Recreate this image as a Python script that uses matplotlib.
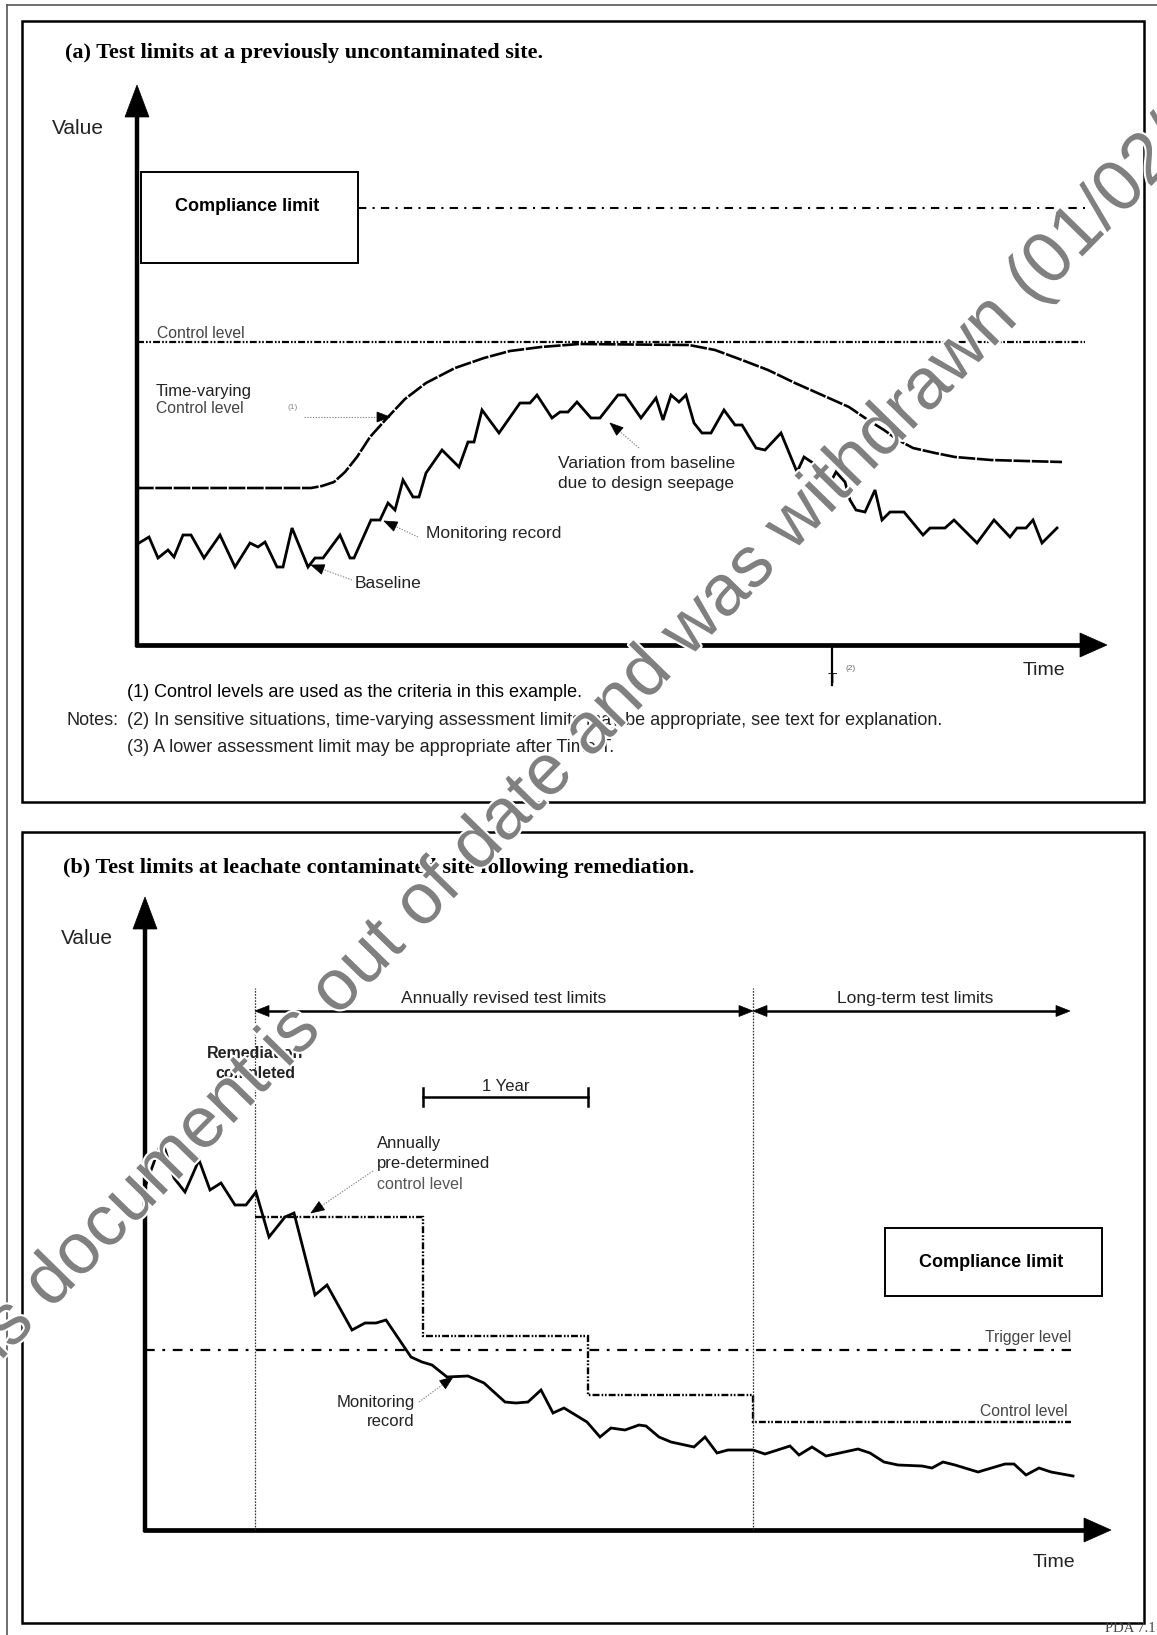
import numpy as np
import matplotlib
matplotlib.use("Agg")
import matplotlib.pyplot as plt
from matplotlib.patches import Rectangle, Polygon
import matplotlib.patheffects as pe

plt.rcParams['font.family'] = ['Liberation Sans', 'DejaVu Sans']
plt.rcParams['lines.scale_dashes'] = False

# ---------------- panel (a): previously uncontaminated site ----------------
# time and value in arbitrary units (10 px per unit)
a_time = [0.2, 1.2, 2.1, 3.1, 3.7, 4.6, 5.4, 6.7, 8.3, 9.8, 11.3, 12.1, 12.8, 14.0, 14.6,
          15.5, 17.1, 17.8, 18.6, 20.3, 21.3, 21.7, 23.4, 24.3, 25.1, 25.8, 26.6, 27.6,
          28.2, 28.9, 30.5, 32.2, 33.1, 33.7, 34.5, 36.2, 38.3, 39.3, 40.0, 41.5, 42.3,
          43.1, 44.0, 45.4, 46.3, 48.1, 48.8, 50.4, 51.9, 52.6, 53.4, 54.2, 54.9, 55.7,
          56.5, 57.4, 58.7, 59.8, 60.5, 61.9, 62.8, 64.4, 66.0, 66.7, 67.6, 68.7, 69.2,
          69.9, 70.8, 71.3, 71.9, 72.8, 73.8, 74.5, 75.3, 76.7, 78.6, 79.3, 80.8, 81.7,
          84.0, 85.7, 87.3, 88.0, 88.9, 89.6, 90.5, 92.0]
a_record = [10.2, 10.8, 8.7, 9.5, 8.8, 11.0, 11.0, 8.7, 11.0, 7.8, 10.2, 9.8, 10.3, 7.8, 7.8,
            11.7, 7.8, 8.7, 8.7, 11.0, 8.7, 8.7, 12.5, 12.5, 14.2, 13.5, 16.5, 14.8,
            14.8, 17.2, 19.5, 17.8, 20.3, 20.3, 23.5, 21.2, 24.2, 24.2, 25.0, 22.7, 23.3,
            23.3, 24.3, 22.7, 22.7, 25.0, 25.0, 22.7, 24.7, 22.5, 25.0, 24.3, 25.0, 22.2,
            21.2, 21.2, 23.5, 22.0, 22.0, 19.7, 19.5, 21.2, 17.3, 18.8, 18.2, 16.8, 16.0,
            17.3, 16.3, 14.5, 13.5, 13.3, 15.5, 12.5, 13.3, 13.3, 11.0, 11.7, 11.7, 12.5,
            10.2, 12.5, 10.8, 11.7, 11.7, 12.5, 10.2, 11.7]
a_tv_time = [0, 17.4, 18.5, 19.7, 20.8, 22.0, 23.3, 25.1, 26.8, 28.9, 31.8, 34.7, 37.3, 40.4,
             44.2, 55.2, 57.8, 60.5, 63.1, 65.8, 68.5, 71.2, 73.1, 74.7, 76.1, 77.6, 79.8,
             81.8, 85.4, 88.8, 92.5]
a_tv_level = [15.7, 15.7, 15.9, 16.3, 17.3, 18.8, 20.8, 22.8, 24.6, 26.2, 27.7, 28.7, 29.4,
              29.8, 30.1, 30.0, 29.5, 28.5, 27.5, 26.2, 25.0, 23.8, 22.5, 21.5, 20.5, 19.7,
              19.2, 18.8, 18.5, 18.4, 18.3]
a_control = 30.3
a_compliance = 43.7
a_limit_span = [0, 94.8]
a_compliance_start = 22.1
a_T = 69.5

# ---------------- panel (b): leachate contaminated site ----------------
b_time = [0.0, 1.7, 2.9, 4.0, 5.4, 6.5, 7.6, 9.0, 10.1, 11.1, 12.4, 14.0, 14.9, 17.0, 18.2,
          20.7, 22.0, 23.1, 24.1, 26.6, 27.7, 28.7, 30.2, 32.3, 33.9, 36.0, 37.1, 38.3,
          39.6, 40.8, 41.9, 44.2, 45.5, 46.6, 48.0, 49.4, 50.1, 51.4, 52.6, 54.9, 56.0,
          57.2, 58.3, 60.8, 62.0, 64.5, 65.4, 66.7, 68.1, 71.3, 72.5, 73.9, 75.3, 77.7,
          78.7, 79.8, 81.0, 83.3, 86.0, 86.9, 88.1, 89.4, 90.6, 92.8]
b_record = [34.3, 39.0, 35.2, 33.8, 37.0, 34.0, 34.7, 32.5, 32.5, 33.8, 29.3, 31.3, 31.7, 23.5,
            24.5, 20.0, 20.7, 20.7, 21.0, 17.3, 16.8, 16.5, 15.3, 15.4, 14.7, 12.8, 12.7,
            12.8, 14.0, 11.7, 12.2, 10.8, 9.3, 10.2, 10.0, 10.5, 10.4, 9.3, 8.8, 8.3, 9.3,
            7.7, 8.0, 8.0, 7.6, 8.4, 7.5, 8.3, 7.4, 8.1, 7.7, 6.8, 6.5, 6.4, 6.2, 6.8, 6.5,
            5.8, 6.6, 6.6, 5.5, 6.2, 5.8, 5.4]
b_step_edges = [11.0, 27.8, 44.3, 60.8, 92.6]
b_step_levels = [31.3, 19.4, 13.5, 10.8]
b_trigger = 18.0
b_phase_top = 54.2
b_phase_arrow = 51.9
b_phase_end = 92.5
b_year_level = 43.3

W, H = 1157, 1635
fig = plt.figure(figsize=(W / 100, H / 100), dpi=100)
fig.patch.set_facecolor('white')

bg = fig.add_axes([0, 0, 1, 1])
bg.set_xlim(0, W)
bg.set_ylim(H, 0)
bg.axis('off')

dash_dot_dot = (0, (5, 1.5, 1.2, 1.2, 1.2, 1.5))


def head(ax, tip, tail, length, width, color='k'):
    tx, ty = tip
    sx, sy = tail
    d = np.hypot(tx - sx, ty - sy)
    ux, uy = (tx - sx) / d, (ty - sy) / d
    bx, by = tx - ux * length, ty - uy * length
    px, py = -uy * width / 2, ux * width / 2
    ax.add_patch(Polygon([(tx, ty), (bx + px, by + py), (bx - px, by - py)],
                         closed=True, facecolor=color, edgecolor=color, lw=0.5, zorder=5,
                         clip_on=False))


def leader(ax, tail, tip):
    ax.plot([tail[0], tip[0]], [tail[1], tip[1]], color='#888888', lw=0.8, ls=(0, (1, 1)))
    head(ax, tip, tail, 13, 10)


def axis_arrows(ox, oy, ytip, xtip):
    bg.plot([ox, ox], [oy + 2, ytip + 25], color='k', lw=3.2, solid_capstyle='butt')
    head(bg, (ox, ytip), (ox, oy), 32, 24)
    bg.plot([ox - 2, xtip - 22], [oy, oy], color='k', lw=3.4, solid_capstyle='butt')
    head(bg, (xtip, oy), (ox, oy), 27, 24)


# page and panel frames
bg.plot([7, W], [5, 5], color='#555555', lw=1.2)
bg.plot([7, 7], [5, H], color='#555555', lw=1.2)
for top, bot in [(21, 802), (832, 1623)]:
    bg.add_patch(Rectangle((22, top), 1144 - 22, bot - top, fill=False, ec='k', lw=1.8))

serif = ['Liberation Serif', 'DejaVu Serif']
bg.text(65, 53, '(a) Test limits at a previously uncontaminated site.', family=serif,
        fontweight='bold', fontsize=16, va='center')
bg.text(63, 868, '(b) Test limits at leachate contaminated site following remediation.',
        family=serif, fontweight='bold', fontsize=16, va='center')
bg.text(1156, 1635, 'PDA 7.1', family=serif, fontsize=10.5, color='#444444', ha='right',
        va='bottom')

# ---------------- panel (a) ----------------
ax_a = fig.add_axes([137 / W, 1 - 645 / H, 970 / W, 560 / H])
ax_a.set_xlim(0, 97)
ax_a.set_ylim(0, 56)
ax_a.axis('off')

ax_a.plot(a_limit_span, [a_control, a_control], color='k', lw=1.6, ls=dash_dot_dot)
ax_a.plot([a_compliance_start, a_limit_span[1]], [a_compliance, a_compliance], color='k',
          lw=1.5, ls=(0, (6, 4.5, 1.5, 4.5)))
ax_a.plot(a_tv_time, a_tv_level, color='k', lw=1.9, ls=(0, (12, 1.2)))
ax_a.plot(a_time, a_record, color='k', lw=2.0, solid_joinstyle='miter')
ax_a.plot([a_T, a_T], [0, -4.0], color='k', lw=1.6, clip_on=False)

axis_arrows(137, 645, 85, 1107)

bg.add_patch(Rectangle((141, 172), 217, 91, fill=True, fc='white', ec='k', lw=1.4, zorder=4))
bg.text(247, 206, 'Compliance limit', fontsize=13, fontweight='bold', ha='center',
        va='center', zorder=6)
bg.text(78, 128, 'Value', fontsize=15, ha='center', va='center', color='#222222')
bg.text(1044, 670, 'Time', fontsize=14, ha='center', va='center', color='#222222')
bg.text(832, 679, 'T', fontsize=11, ha='center', va='center', color='#222222')
bg.text(845, 668, '(2)', fontsize=6, ha='left', va='center', color='#666666')

bg.text(157, 333, 'Control level', fontsize=11.3, va='center', color='#444444')
bg.text(156, 391, 'Time-varying', fontsize=12, va='center', color='#222222')
bg.text(156, 408, 'Control level', fontsize=11.3, va='center', color='#444444')
bg.text(287, 407, '(1)', fontsize=6, va='center', color='#888888')
leader(bg, (304, 417), (390, 417))

bg.text(426, 533, 'Monitoring record', fontsize=12.5, va='center', color='#222222')
leader(bg, (418, 537), (384, 521))
bg.text(355, 583, 'Baseline', fontsize=12.5, va='center', color='#222222')
leader(bg, (352, 580), (311, 565))
bg.text(558, 463, 'Variation from baseline', fontsize=12.5, va='center', color='#222222')
bg.text(558, 483, 'due to design seepage', fontsize=12.5, va='center', color='#222222')
leader(bg, (639, 448), (610, 423))

bg.text(127, 692, '(1) Control levels are used as the criteria in this example.',
        fontsize=13, va='center', color='black')
bg.text(67, 720, 'Notes:', fontsize=13, va='center', color='#222222')
bg.text(127, 720, '(2) In sensitive situations, time-varying assessment limits may be '
        'appropriate, see text for explanation.', fontsize=13, va='center', color='#222222')
bg.text(127, 747, '(3) A lower assessment limit may be appropriate after Time T.',
        fontsize=13, va='center', color='#222222')

# ---------------- panel (b) ----------------
ax_b = fig.add_axes([145 / W, 1 - 1530 / H, 966 / W, 633 / H])
ax_b.set_xlim(0, 96.6)
ax_b.set_ylim(0, 63.3)
ax_b.axis('off')

for t in (b_step_edges[0], b_step_edges[3]):
    ax_b.plot([t, t], [0, b_phase_top], color='#333333', lw=0.9, ls=(0, (1.2, 1)))
ax_b.plot([0, b_step_edges[-1]], [b_trigger, b_trigger], color='k', lw=1.6,
          ls=(0, (7, 5.5, 2, 5.5)))
ax_b.stairs(b_step_levels, b_step_edges, baseline=None, color='k', lw=1.7, ls=dash_dot_dot)
ax_b.plot(b_time, b_record, color='k', lw=2.0, solid_joinstyle='miter')

for lo, hi in [(b_step_edges[0], b_step_edges[3]), (b_step_edges[3], b_phase_end)]:
    ax_b.plot([lo + 0.8, hi - 0.8], [b_phase_arrow, b_phase_arrow], color='k', lw=1.8)
    head(ax_b, (lo, b_phase_arrow), (hi, b_phase_arrow), 1.4, 1.1)
    head(ax_b, (hi, b_phase_arrow), (lo, b_phase_arrow), 1.4, 1.1)
ax_b.plot([b_step_edges[1], b_step_edges[2]], [b_year_level, b_year_level], color='k', lw=1.8)
for t in (b_step_edges[1], b_step_edges[2]):
    ax_b.plot([t, t], [b_year_level - 0.9, b_year_level + 0.9], color='k', lw=1.8)

axis_arrows(145, 1530, 897, 1111)

bg.text(87, 938, 'Value', fontsize=15, ha='center', va='center', color='#222222')
bg.text(1054, 1562, 'Time', fontsize=14, ha='center', va='center', color='#222222')
bg.text(504, 998, 'Annually revised test limits', fontsize=12.5, ha='center', va='center',
        color='#222222')
bg.text(915, 998, 'Long-term test limits', fontsize=12.5, ha='center', va='center',
        color='#222222')
bg.text(255, 1053, 'Remediation', fontsize=11.5, fontweight='bold', ha='center',
        va='center', color='#222222')
bg.text(255, 1073, 'completed', fontsize=11.5, fontweight='bold', ha='center', va='center',
        color='#222222')
bg.text(506, 1086, '1 Year', fontsize=12, ha='center', va='center', color='#222222')

bg.text(377, 1143, 'Annually', fontsize=12, va='center', color='#222222')
bg.text(377, 1163, 'pre-determined', fontsize=12, va='center', color='#222222')
bg.text(377, 1184, 'control level', fontsize=11.5, va='center', color='#555555')
leader(bg, (373, 1171), (311, 1213))
bg.text(415, 1402, 'Monitoring', fontsize=12, ha='right', va='center', color='#222222')
bg.text(415, 1421, 'record', fontsize=12, ha='right', va='center', color='#222222')
leader(bg, (419, 1402), (453, 1377))

bg.text(1071, 1337, 'Trigger level', fontsize=11.3, ha='right', va='center', color='#444444')
bg.text(1068, 1411, 'Control level', fontsize=11.3, ha='right', va='center', color='#444444')

bg.add_patch(Rectangle((885, 1228), 217, 68, fill=True, fc='white', ec='k', lw=1.4, zorder=4))
bg.text(991, 1262, 'Compliance limit', fontsize=13, fontweight='bold', ha='center',
        va='center', zorder=6)

# watermark
fig.text(-59, 1422, 'This document is out of date and was withdrawn (01/02/2012)',
         transform=bg.transData, rotation=45.6, rotation_mode='anchor', ha='left',
         va='baseline', fontsize=52, color='#808080', zorder=20,
         path_effects=[pe.withStroke(linewidth=3, foreground='white')])

fig.savefig('out.png', dpi=100)
